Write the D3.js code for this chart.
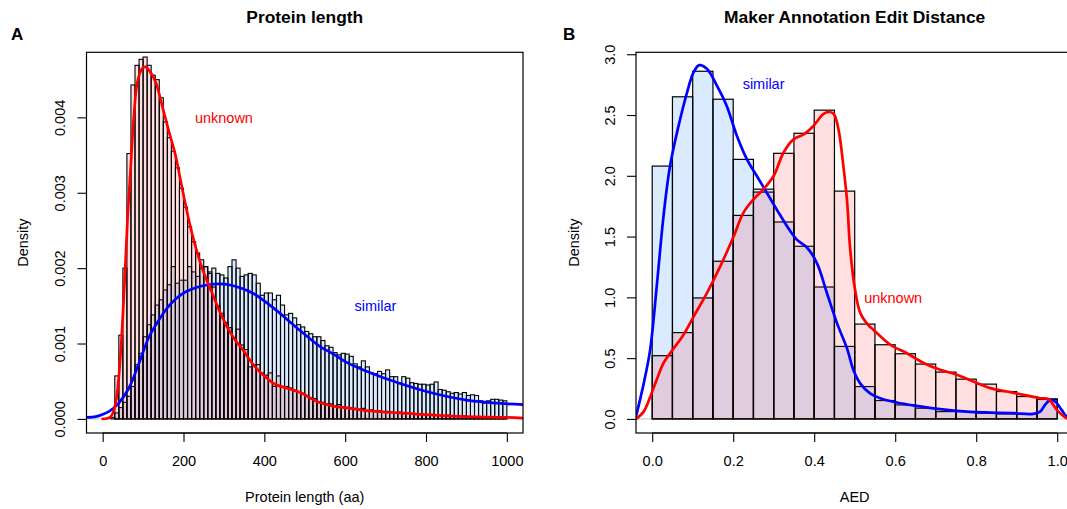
<!DOCTYPE html>
<html>
<head>
<meta charset="utf-8">
<script src="https://cdn.jsdelivr.net/npm/d3@7/dist/d3.min.js"></script>
<style>
  body { margin: 0; background: #fff; }
  svg { display: block; font-family: "Liberation Sans", Arial, Helvetica, sans-serif; }
</style>
</head>
<body>
<svg id="chart" width="1067" height="509"></svg>
<script>
// ---------- Panel A: protein length (10 aa bins, 0..1000) ----------
const lengthBinWidth = 10;
const lengthBinStart = d3.range(0, 1000, lengthBinWidth);

const lengthUnknown = [
  0, 0, 0, 0.00057, 0.00111, 0.00200, 0.00352, 0.00443, 0.00469, 0.00477,
  0.00480, 0.00469, 0.00456, 0.00450, 0.00426, 0.00394, 0.00373, 0.00355, 0.00333, 0.00306,
  0.00281, 0.00255, 0.00235, 0.00220, 0.00211, 0.00202, 0.00193, 0.00175, 0.00150, 0.00140,
  0.00128, 0.00121, 0.00108, 0.00119, 0.00098, 0.00092, 0.00069, 0.00072, 0.00072, 0.00061,
  0.00058, 0.00061, 0.00043, 0.00057, 0.00043, 0.00043, 0.00041, 0.00038, 0.00036, 0.00034,
  0.00031, 0.00028, 0.00027, 0.00023, 0.00022, 0.00020, 0.00020, 0.00017, 0.00019, 0.00016,
  0.00015, 0.00015, 0.00014, 0.00013, 0.00014, 0.00011, 0.00012, 0.00010, 0.00011, 0.00009,
  0.00010, 0.00009, 0.00008, 0.00009, 0.00007, 0.00008, 0.00007, 0.00006, 0.00007, 0.00006,
  0.00005, 0.00006, 0.00005, 0.00005, 0.00004, 0.00005, 0.00004, 0.00004, 0.00003, 0.00004,
  0.00003, 0.00003, 0.00003, 0.00002, 0.00003, 0.00002, 0.00002, 0.00002, 0.00002, 0.00001
];

const lengthSimilar = [
  0, 0, 0.00002, 0.00008, 0.00015, 0.00022, 0.00030, 0.00043, 0.00072, 0.00087,
  0.00109, 0.00125, 0.00138, 0.00151, 0.00158, 0.00171, 0.00178, 0.00202, 0.00180, 0.00184,
  0.00184, 0.00202, 0.00195, 0.00189, 0.00200, 0.00202, 0.00195, 0.00200, 0.00193, 0.00191,
  0.00187, 0.00202, 0.00211, 0.00200, 0.00189, 0.00191, 0.00193, 0.00191, 0.00180, 0.00164,
  0.00167, 0.00167, 0.00158, 0.00164, 0.00151, 0.00138, 0.00140, 0.00134, 0.00125, 0.00122,
  0.00116, 0.00113, 0.00109, 0.00109, 0.00104, 0.00097, 0.00095, 0.00088, 0.00085, 0.00087,
  0.00086, 0.00083, 0.00073, 0.00069, 0.00077, 0.00069, 0.00061, 0.00060, 0.00063, 0.00060,
  0.00065, 0.00056, 0.00056, 0.00048, 0.00056, 0.00054, 0.00048, 0.00047, 0.00046, 0.00046,
  0.00045, 0.00046, 0.00049, 0.00039, 0.00038, 0.00036, 0.00034, 0.00035, 0.00033, 0.00035,
  0.00031, 0.00032, 0.00031, 0.00024, 0.00021, 0.00024, 0.00026, 0.00026, 0.00025, 0.00024
];

// kernel density estimates, [length, density]
const lengthUnknownDensity = [
  [0, 0], [20, 0.00003], [32, 0.00021], [40, 0.00056], [48, 0.00118], [55, 0.0019],
  [62, 0.0027], [70, 0.0034], [77, 0.0040], [86, 0.00447], [98, 0.00465], [106, 0.00467],
  [118, 0.0046], [131, 0.00447], [147, 0.00416], [164, 0.00381], [180, 0.0035], [197, 0.00305],
  [221, 0.00246], [246, 0.0020], [270, 0.00168], [290, 0.00142], [312, 0.00118], [330, 0.00103],
  [345, 0.00093], [374, 0.00071], [400, 0.00057], [423, 0.00047], [460, 0.0004], [489, 0.00035],
  [530, 0.00023], [571, 0.00017], [612, 0.00014], [654, 0.00011], [700, 0.00009], [736, 0.00008],
  [819, 0.00005], [901, 0.00003], [1000, 0.00002], [1040, 0.00001]
];

const lengthSimilarDensity = [
  [-40, 0.00002], [-17, 0.00003], [0, 0.00006], [16, 0.0001], [40, 0.00021], [65, 0.00041],
  [90, 0.00074], [114, 0.00108], [139, 0.00131], [164, 0.0015], [197, 0.00166], [230, 0.00174],
  [262, 0.00178], [290, 0.00179], [312, 0.00178], [345, 0.00173], [374, 0.00166], [423, 0.00147],
  [489, 0.00117], [538, 0.00096], [571, 0.00086], [600, 0.00076], [654, 0.00063], [736, 0.00047],
  [818, 0.00034], [900, 0.00025], [1000, 0.0002], [1040, 0.00019]
];

const lengthXTicks = [0, 200, 400, 600, 800, 1000];
const lengthYTicks = [0, 0.001, 0.002, 0.003, 0.004];

// ---------- Panel B: AED (0.05 bins, 0..1) ----------
const aedBinWidth = 0.05;
const aedBinStart = d3.range(0, 20).map(i => i * aedBinWidth);

const aedSimilar = [2.08, 2.65, 2.86, 2.63, 2.135, 1.89, 1.62, 1.42, 1.085, 0.596,
                    0.266, 0.151, 0.115, 0.088, 0.06, 0.06, 0.047, 0.041, 0.041, 0.165];
const aedUnknown = [0.52, 0.71, 0.995, 1.297, 1.674, 1.866, 2.185, 2.35, 2.54, 1.874,
                    0.78, 0.61, 0.536, 0.451, 0.385, 0.327, 0.286, 0.225, 0.184, 0.16];

const aedSimilarDensity = [
  [-0.04, 0.02], [-0.021, 0.29], [-0.005, 0.57], [0.012, 1.12], [0.028, 1.67], [0.044, 2.08],
  [0.065, 2.41], [0.086, 2.685], [0.102, 2.85], [0.116, 2.91], [0.135, 2.88], [0.16, 2.74],
  [0.184, 2.575], [0.209, 2.33], [0.234, 2.135], [0.258, 2.0], [0.283, 1.86], [0.308, 1.72],
  [0.333, 1.585], [0.357, 1.475], [0.382, 1.41], [0.407, 1.28], [0.431, 1.04], [0.456, 0.79],
  [0.481, 0.58], [0.497, 0.40], [0.514, 0.29], [0.538, 0.21], [0.563, 0.17], [0.604, 0.135],
  [0.653, 0.107], [0.711, 0.08], [0.777, 0.06], [0.835, 0.052], [0.892, 0.047], [0.941, 0.041],
  [0.958, 0.06], [0.970, 0.115], [0.983, 0.157], [0.995, 0.143], [1.011, 0.074], [1.023, 0.02],
  [1.04, 0.0]
];

const aedUnknownDensity = [
  [-0.04, 0.0], [-0.021, 0.06], [-0.005, 0.18], [0.012, 0.33], [0.028, 0.46], [0.053, 0.58],
  [0.077, 0.69], [0.102, 0.84], [0.135, 1.035], [0.168, 1.255], [0.201, 1.5], [0.225, 1.695],
  [0.25, 1.805], [0.275, 1.89], [0.3, 2.0], [0.324, 2.19], [0.349, 2.3], [0.374, 2.34],
  [0.398, 2.41], [0.423, 2.51], [0.435, 2.525], [0.448, 2.51], [0.46, 2.38], [0.472, 2.08],
  [0.481, 1.8], [0.489, 1.39], [0.501, 1.06], [0.514, 0.87], [0.534, 0.77], [0.546, 0.734],
  [0.588, 0.61], [0.629, 0.54], [0.67, 0.46], [0.711, 0.404], [0.752, 0.363], [0.793, 0.308],
  [0.835, 0.253], [0.876, 0.225], [0.917, 0.198], [0.958, 0.17], [0.979, 0.162], [0.999, 0.074],
  [1.023, 0.006], [1.04, 0]
];

const aedXTicks = [0, 0.2, 0.4, 0.6, 0.8, 1.0];
const aedYTicks = [0, 0.5, 1.0, 1.5, 2.0, 2.5, 3.0];

// ---------- styling ----------
const FILL_SIMILAR = "rgba(70,150,255,0.2)";
const FILL_UNKNOWN = "rgba(255,40,40,0.15)";
const LINE_SIMILAR = "#0000ff";
const LINE_UNKNOWN = "#ff0000";
const FONT = 14.5;

const svg = d3.select("#chart");
svg.append("rect").attr("width", 1067).attr("height", 509).attr("fill", "#fff");

function drawPanel(o) {
  const g = svg.append("g");
  const x = d3.scaleLinear().domain(o.xDomain).range([o.left, o.right]);
  const y = d3.scaleLinear().domain(o.yDomain).range([o.bottom, o.top]);

  const clipId = "clip-" + o.id;
  svg.append("clipPath").attr("id", clipId)
    .append("rect")
    .attr("x", o.left).attr("y", o.top)
    .attr("width", o.right - o.left).attr("height", o.bottom - o.top);

  const plot = g.append("g").attr("clip-path", `url(#${clipId})`);

  // zero line
  plot.append("line")
    .attr("x1", o.left).attr("x2", o.right)
    .attr("y1", y(0)).attr("y2", y(0))
    .attr("stroke", "#bdbdbd").attr("stroke-width", 1);

  // histograms
  o.hists.forEach(h => {
    const bins = h.values.map((v, i) => ({ x0: o.binStart[i], x1: o.binStart[i] + o.binWidth, v }))
      .filter(d => d.v > 0);
    plot.append("g").selectAll("rect").data(bins).join("rect")
      .attr("x", d => x(d.x0))
      .attr("width", d => x(d.x1) - x(d.x0))
      .attr("y", d => y(d.v))
      .attr("height", d => y(0) - y(d.v))
      .attr("fill", h.fill)
      .attr("stroke", "#000")
      .attr("stroke-width", o.barStroke);
  });

  // density curves
  const line = d3.line().x(d => x(d[0])).y(d => y(d[1])).curve(d3.curveCatmullRom.alpha(0.5));
  o.curves.forEach(c => {
    plot.append("path").attr("d", line(c.points))
      .attr("fill", "none").attr("stroke", c.color)
      .attr("stroke-width", 2.7).attr("stroke-linejoin", "round").attr("stroke-linecap", "round");
  });

  // series labels
  o.labels.forEach(l => {
    g.append("text").attr("x", x(l.x)).attr("y", y(l.y)).attr("dy", "0.36em")
      .attr("text-anchor", "middle").attr("fill", l.color)
      .attr("font-size", FONT).text(l.text);
  });

  // frame
  g.append("rect")
    .attr("x", o.left).attr("y", o.top)
    .attr("width", o.right - o.left).attr("height", o.bottom - o.top)
    .attr("fill", "none").attr("stroke", "#000").attr("stroke-width", 1.2);

  // x axis
  const xa = g.append("g").attr("transform", `translate(0,${o.bottom})`)
    .call(d3.axisBottom(x).tickValues(o.xTicks).tickSize(9).tickPadding(14)
      .tickFormat(o.xFormat));
  xa.select(".domain").remove();
  xa.selectAll(".tick line").attr("stroke", "#000").attr("stroke-width", 1.1);
  xa.selectAll("text").attr("font-size", FONT).attr("fill", "#000")
    .attr("font-family", "Liberation Sans, Arial, sans-serif");
  xa.append("line")
    .attr("x1", x(o.xTicks[0])).attr("x2", x(o.xTicks[o.xTicks.length - 1]))
    .attr("stroke", "#000").attr("stroke-width", 1.1);

  // y axis
  const ya = g.append("g").attr("transform", `translate(${o.left},0)`)
    .call(d3.axisLeft(y).tickValues(o.yTicks).tickSize(9).tickFormat(o.yFormat));
  ya.select(".domain").remove();
  ya.selectAll(".tick line").attr("stroke", "#000").attr("stroke-width", 1.1);
  ya.selectAll("text")
    .attr("font-size", FONT).attr("fill", "#000")
    .attr("font-family", "Liberation Sans, Arial, sans-serif")
    .attr("text-anchor", "middle").attr("dy", 0)
    .attr("x", 0).attr("y", -(o.left - o.yLabelBase))
    .attr("transform", "rotate(-90)");

  // axis titles
  g.append("text")
    .attr("x", (o.left + o.right) / 2).attr("y", 502)
    .attr("text-anchor", "middle").attr("font-size", FONT).text(o.xTitle);
  g.append("text")
    .attr("transform", `translate(${o.yTitleBase},${(o.top + o.bottom) / 2}) rotate(-90)`)
    .attr("text-anchor", "middle").attr("font-size", FONT).text("Density");

  // panel title and letter
  g.append("text")
    .attr("x", (o.left + o.right) / 2).attr("y", 23)
    .attr("text-anchor", "middle").attr("font-size", 17.4).attr("font-weight", "bold")
    .text(o.title);
  g.append("text")
    .attr("x", o.letterX).attr("y", 39.5)
    .attr("font-size", 17).attr("font-weight", "bold").text(o.letter);
}

drawPanel({
  id: "a",
  left: 86.5, right: 523, top: 52.3, bottom: 433,
  xDomain: [-40, 1040], yDomain: [-0.000187, 0.004863],
  binStart: lengthBinStart, binWidth: lengthBinWidth, barStroke: 1.1,
  hists: [
    { values: lengthSimilar, fill: FILL_SIMILAR },
    { values: lengthUnknown, fill: FILL_UNKNOWN }
  ],
  curves: [
    { points: lengthSimilarDensity, color: LINE_SIMILAR },
    { points: lengthUnknownDensity, color: LINE_UNKNOWN }
  ],
  labels: [
    { text: "unknown", x: 300, y: 0.004, color: LINE_UNKNOWN },
    { text: "similar", x: 675, y: 0.0015, color: LINE_SIMILAR }
  ],
  xTicks: lengthXTicks, yTicks: lengthYTicks,
  xFormat: d3.format("d"), yFormat: d3.format(".3f"),
  yLabelBase: 65, yTitleBase: 28,
  xTitle: "Protein length (aa)", title: "Protein length",
  letter: "A", letterX: 11
});

drawPanel({
  id: "b",
  left: 636, right: 1073.4, top: 52.3, bottom: 433,
  xDomain: [-0.04, 1.04], yDomain: [-0.116, 3.016],
  binStart: aedBinStart, binWidth: aedBinWidth, barStroke: 1.2,
  hists: [
    { values: aedSimilar, fill: FILL_SIMILAR },
    { values: aedUnknown, fill: FILL_UNKNOWN }
  ],
  curves: [
    { points: aedSimilarDensity, color: LINE_SIMILAR },
    { points: aedUnknownDensity, color: LINE_UNKNOWN }
  ],
  labels: [
    { text: "similar", x: 0.275, y: 2.76, color: LINE_SIMILAR },
    { text: "unknown", x: 0.595, y: 1.0, color: LINE_UNKNOWN }
  ],
  xTicks: aedXTicks, yTicks: aedYTicks,
  xFormat: d3.format(".1f"), yFormat: d3.format(".1f"),
  yLabelBase: 615, yTitleBase: 579,
  xTitle: "AED", title: "Maker Annotation Edit Distance",
  letter: "B", letterX: 563
});
</script>
</body>
</html>
